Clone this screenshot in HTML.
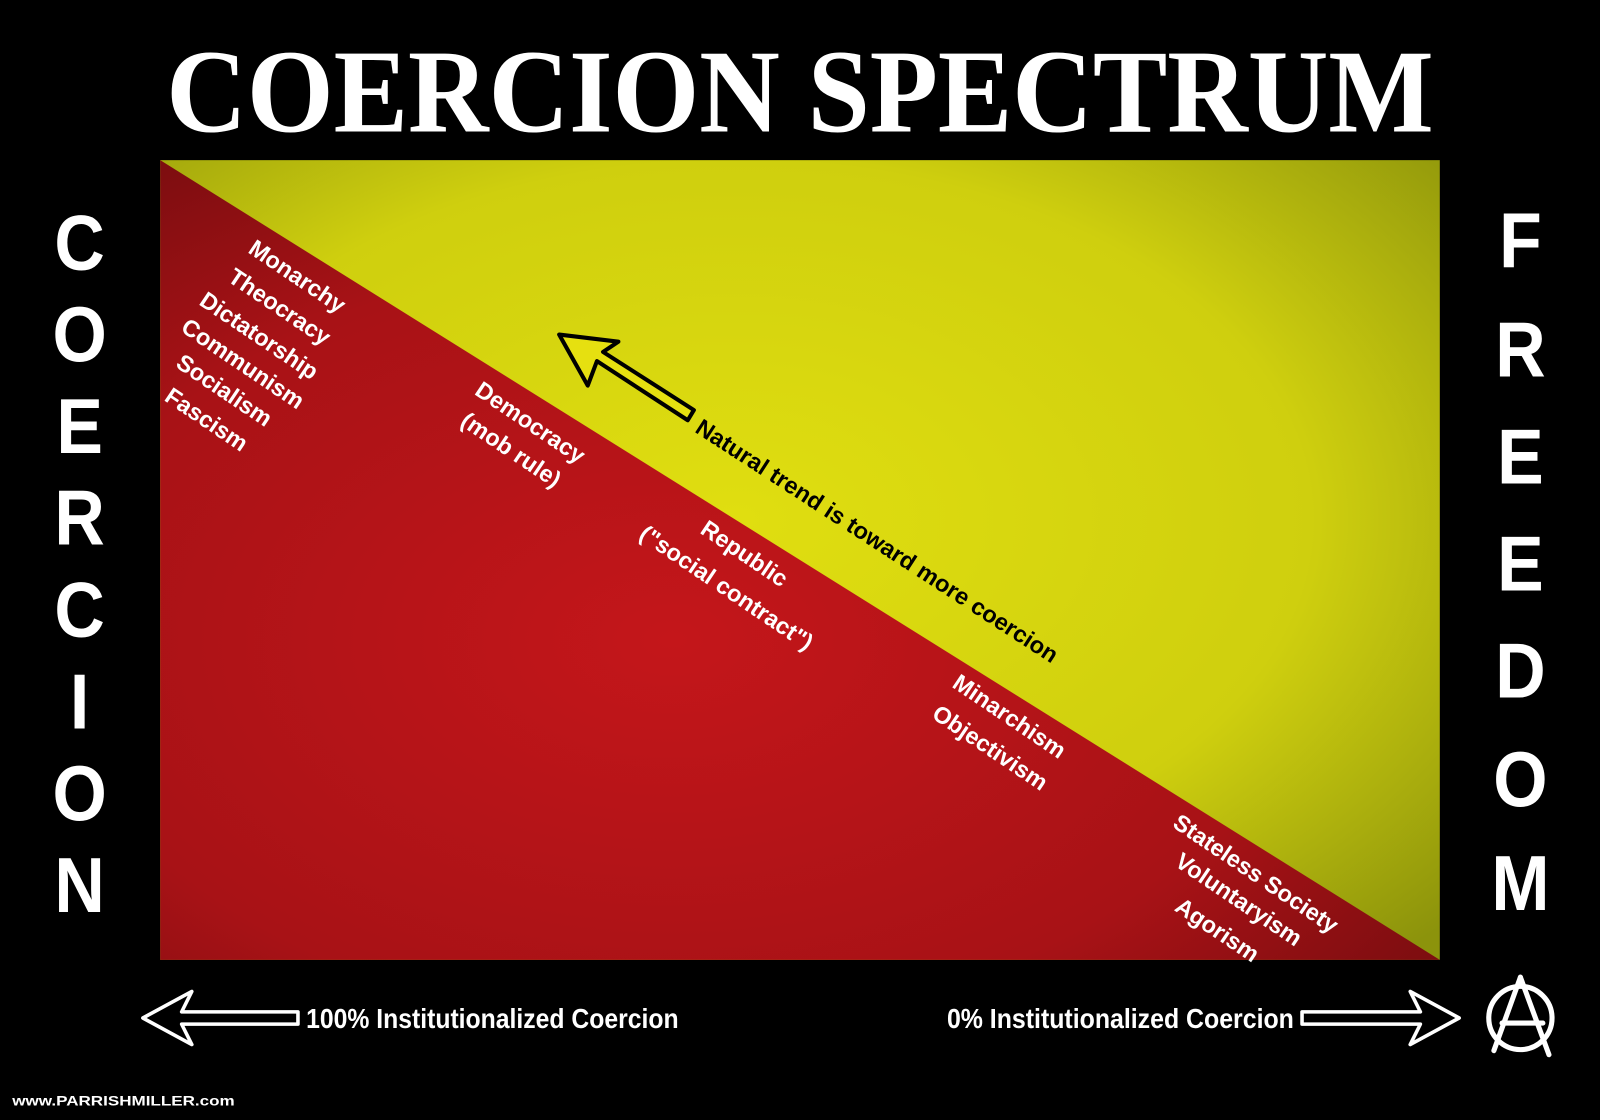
<!DOCTYPE html>
<html><head><meta charset="utf-8"><style>html,body{margin:0;padding:0;background:#000;}svg{display:block}</style></head>
<body>
<svg width="1600" height="1120" viewBox="0 0 1568 1098" preserveAspectRatio="none" xmlns="http://www.w3.org/2000/svg">
<defs>
<radialGradient id="gy" cx="0.45" cy="0.45" r="0.75">
<stop offset="0" stop-color="#e0de10"/><stop offset="0.6" stop-color="#cfcf0e"/><stop offset="1" stop-color="#8c930c"/>
</radialGradient>
<radialGradient id="gr" cx="0.4" cy="0.6" r="0.8">
<stop offset="0" stop-color="#c4161a"/><stop offset="0.6" stop-color="#a81216"/><stop offset="1" stop-color="#6e0c0e"/>
</radialGradient>
</defs>
<rect width="1568" height="1098" fill="#000"/>
<text x="163" y="129" font-family="Liberation Serif" font-weight="bold" font-size="116" fill="#fff" textLength="1242" lengthAdjust="spacingAndGlyphs">COERCION SPECTRUM</text>
<rect x="157" y="157" width="1254" height="784" fill="url(#gy)"/>
<polygon points="157,157 1411,941 157,941" fill="url(#gr)"/>
<g font-family="Liberation Sans" font-weight="bold" font-size="76" fill="#fff" text-anchor="middle">
<g transform="translate(78,0) scale(0.9,1)">
<text x="0" y="264">C</text><text x="0" y="354">O</text><text x="0" y="444">E</text><text x="0" y="534">R</text><text x="0" y="624">C</text><text x="0" y="714">I</text><text x="0" y="804">O</text><text x="0" y="894">N</text>
</g>
<g transform="translate(1490,0) scale(0.9,1)">
<text x="0" y="262">F</text><text x="0" y="369">R</text><text x="0" y="474">E</text><text x="0" y="579">E</text><text x="0" y="684">D</text><text x="0" y="790">O</text><text x="0" y="892">M</text>
</g>
</g>
<g font-family="Liberation Sans" font-weight="bold" font-size="23" fill="#fff">
<text transform="translate(242,247) rotate(34)">Monarchy</text>
<text transform="translate(222,275) rotate(34)">Theocracy</text>
<text transform="translate(194,298) rotate(34)">Dictatorship</text>
<text transform="translate(176,324) rotate(34)">Communism</text>
<text transform="translate(171,359) rotate(34)">Socialism</text>
<text transform="translate(160,392) rotate(34)">Fascism</text>
<text transform="translate(464,386) rotate(34)">Democracy</text>
<text transform="translate(450,416) rotate(34)">(mob rule)</text>
<text transform="translate(685,522) rotate(34)">Republic</text>
<text transform="translate(625,527) rotate(34)">("social contract")</text>
<text transform="translate(932,673) rotate(34)">Minarchism</text>
<text transform="translate(912,703) rotate(34)">Objectivism</text>
<text transform="translate(1148,810) rotate(34)">Stateless Society</text>
<text transform="translate(1150,848) rotate(34)">Voluntaryism</text>
<text transform="translate(1150,892) rotate(34)">Agorism</text>
</g>
<text transform="translate(680,423) rotate(33)" font-family="Liberation Sans" font-weight="bold" font-size="23" fill="#000" textLength="418" lengthAdjust="spacingAndGlyphs">Natural trend is toward more coercion</text>
<polygon points="548,328 606,335 591,345 680,402 674,412 585,354 576,378" fill="#e6e010" stroke="#000" stroke-width="4" stroke-linejoin="round"/>
<g stroke="#fff" stroke-width="3.5" fill="#000" stroke-linejoin="round">
<polygon points="140,998 188,972 178,992 292,992 292,1004 178,1004 188,1024"/>
<polygon points="1430,998 1382,972 1392,992 1276,992 1276,1004 1392,1004 1382,1024"/>
</g>
<g font-family="Liberation Sans" font-weight="bold" font-size="27" fill="#fff">
<text x="300" y="1008" textLength="365" lengthAdjust="spacingAndGlyphs">100% Institutionalized Coercion</text>
<text x="928" y="1008" textLength="340" lengthAdjust="spacingAndGlyphs">0% Institutionalized Coercion</text>
</g>
<g stroke="#fff" stroke-width="5" fill="none" stroke-linecap="round">
<circle cx="1490" cy="998" r="31"/>
<line x1="1490" y1="958" x2="1464" y2="1030"/>
<line x1="1490" y1="958" x2="1518" y2="1034"/>
<line x1="1472" y1="1003" x2="1512" y2="1003"/>
</g>
<text x="12" y="1084" font-family="Liberation Sans" font-weight="bold" font-size="14" fill="#fff" textLength="218" lengthAdjust="spacingAndGlyphs">www.PARRISHMILLER.com</text>
</svg>
</body></html>
